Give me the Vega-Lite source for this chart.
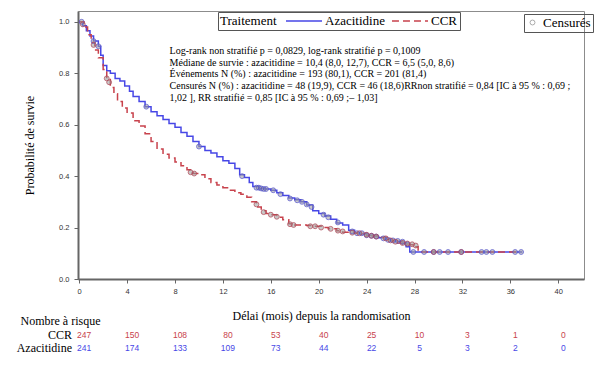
{
  "$schema": "https://vega.github.io/schema/vega-lite/v6.json",
  "width": 506,
  "height": 268,
  "autosize": "none",
  "padding": {"left": 78, "top": 11, "right": 20, "bottom": 94},
  "background": "white",
  "config": {
    "view": {"stroke": "#8c8c8c", "strokeWidth": 1},
    "axis": {
      "labelFont": "Liberation Sans", "labelFontSize": 7.5, "labelColor": "#333",
      "titleFont": "Liberation Serif", "titleFontSize": 12, "titleFontWeight": "normal", "titleColor": "#000",
      "domainColor": "#666", "domainWidth": 2, "tickColor": "#666", "tickSize": 4, "grid": false
    },
    "legend": {
      "titleFont": "Liberation Serif", "titleFontSize": 13, "titleFontWeight": "normal", "titleColor": "#000",
      "labelFont": "Liberation Serif", "labelFontSize": 13, "labelColor": "#000"
    }
  },
  "datasets": {
    "curves": [
      {"t": 0, "s": 1.0, "group": "Azacitidine"},
      {"t": 0.3, "s": 0.985, "group": "Azacitidine"},
      {"t": 0.6, "s": 0.965, "group": "Azacitidine"},
      {"t": 0.9, "s": 0.945, "group": "Azacitidine"},
      {"t": 1.2, "s": 0.925, "group": "Azacitidine"},
      {"t": 1.6, "s": 0.905, "group": "Azacitidine"},
      {"t": 1.8, "s": 0.87, "group": "Azacitidine"},
      {"t": 2.0, "s": 0.83, "group": "Azacitidine"},
      {"t": 2.3, "s": 0.81, "group": "Azacitidine"},
      {"t": 2.6, "s": 0.8, "group": "Azacitidine"},
      {"t": 3.0, "s": 0.78, "group": "Azacitidine"},
      {"t": 3.4, "s": 0.77, "group": "Azacitidine"},
      {"t": 3.8, "s": 0.75, "group": "Azacitidine"},
      {"t": 4.2, "s": 0.73, "group": "Azacitidine"},
      {"t": 4.5, "s": 0.71, "group": "Azacitidine"},
      {"t": 5.0, "s": 0.69, "group": "Azacitidine"},
      {"t": 5.5, "s": 0.67, "group": "Azacitidine"},
      {"t": 6.0, "s": 0.65, "group": "Azacitidine"},
      {"t": 6.5, "s": 0.635, "group": "Azacitidine"},
      {"t": 7.0, "s": 0.62, "group": "Azacitidine"},
      {"t": 7.5, "s": 0.605, "group": "Azacitidine"},
      {"t": 8.0, "s": 0.59, "group": "Azacitidine"},
      {"t": 8.5, "s": 0.57, "group": "Azacitidine"},
      {"t": 9.0, "s": 0.555, "group": "Azacitidine"},
      {"t": 9.5, "s": 0.535, "group": "Azacitidine"},
      {"t": 10.0, "s": 0.515, "group": "Azacitidine"},
      {"t": 10.5, "s": 0.5, "group": "Azacitidine"},
      {"t": 11.0, "s": 0.49, "group": "Azacitidine"},
      {"t": 11.5, "s": 0.475, "group": "Azacitidine"},
      {"t": 12.0, "s": 0.46, "group": "Azacitidine"},
      {"t": 12.5, "s": 0.45, "group": "Azacitidine"},
      {"t": 13.0, "s": 0.43, "group": "Azacitidine"},
      {"t": 13.4, "s": 0.405, "group": "Azacitidine"},
      {"t": 13.8, "s": 0.395, "group": "Azacitidine"},
      {"t": 14.2, "s": 0.375, "group": "Azacitidine"},
      {"t": 14.5, "s": 0.36, "group": "Azacitidine"},
      {"t": 15.0, "s": 0.352, "group": "Azacitidine"},
      {"t": 15.5, "s": 0.35, "group": "Azacitidine"},
      {"t": 16.0, "s": 0.345, "group": "Azacitidine"},
      {"t": 16.5, "s": 0.335, "group": "Azacitidine"},
      {"t": 17.0, "s": 0.325, "group": "Azacitidine"},
      {"t": 17.5, "s": 0.315, "group": "Azacitidine"},
      {"t": 18.0, "s": 0.308, "group": "Azacitidine"},
      {"t": 18.5, "s": 0.3, "group": "Azacitidine"},
      {"t": 19.0, "s": 0.288, "group": "Azacitidine"},
      {"t": 19.5, "s": 0.265, "group": "Azacitidine"},
      {"t": 20.0, "s": 0.255, "group": "Azacitidine"},
      {"t": 20.5, "s": 0.245, "group": "Azacitidine"},
      {"t": 21.0, "s": 0.232, "group": "Azacitidine"},
      {"t": 21.5, "s": 0.218, "group": "Azacitidine"},
      {"t": 22.0, "s": 0.21, "group": "Azacitidine"},
      {"t": 22.5, "s": 0.19, "group": "Azacitidine"},
      {"t": 23.0, "s": 0.18, "group": "Azacitidine"},
      {"t": 23.5, "s": 0.175, "group": "Azacitidine"},
      {"t": 24.0, "s": 0.17, "group": "Azacitidine"},
      {"t": 24.5, "s": 0.165, "group": "Azacitidine"},
      {"t": 25.0, "s": 0.16, "group": "Azacitidine"},
      {"t": 25.5, "s": 0.155, "group": "Azacitidine"},
      {"t": 26.0, "s": 0.15, "group": "Azacitidine"},
      {"t": 26.5, "s": 0.147, "group": "Azacitidine"},
      {"t": 27.0, "s": 0.14, "group": "Azacitidine"},
      {"t": 27.3, "s": 0.125, "group": "Azacitidine"},
      {"t": 27.6, "s": 0.105, "group": "Azacitidine"},
      {"t": 37.0, "s": 0.105, "group": "Azacitidine"},
      {"t": 0, "s": 1.0, "group": "CCR"},
      {"t": 0.4, "s": 0.98, "group": "CCR"},
      {"t": 0.7, "s": 0.95, "group": "CCR"},
      {"t": 1.0, "s": 0.92, "group": "CCR"},
      {"t": 1.3, "s": 0.89, "group": "CCR"},
      {"t": 1.6, "s": 0.86, "group": "CCR"},
      {"t": 2.0, "s": 0.815, "group": "CCR"},
      {"t": 2.3, "s": 0.78, "group": "CCR"},
      {"t": 2.6, "s": 0.745, "group": "CCR"},
      {"t": 2.9, "s": 0.72, "group": "CCR"},
      {"t": 3.2, "s": 0.69, "group": "CCR"},
      {"t": 3.6, "s": 0.665, "group": "CCR"},
      {"t": 4.0, "s": 0.645, "group": "CCR"},
      {"t": 4.5, "s": 0.615, "group": "CCR"},
      {"t": 5.0, "s": 0.595, "group": "CCR"},
      {"t": 5.5, "s": 0.565, "group": "CCR"},
      {"t": 6.0, "s": 0.535, "group": "CCR"},
      {"t": 6.5, "s": 0.505, "group": "CCR"},
      {"t": 7.0, "s": 0.485, "group": "CCR"},
      {"t": 7.5, "s": 0.47, "group": "CCR"},
      {"t": 8.0, "s": 0.455, "group": "CCR"},
      {"t": 8.5, "s": 0.44, "group": "CCR"},
      {"t": 9.0, "s": 0.425, "group": "CCR"},
      {"t": 9.5, "s": 0.41, "group": "CCR"},
      {"t": 10.0, "s": 0.405, "group": "CCR"},
      {"t": 10.5, "s": 0.39, "group": "CCR"},
      {"t": 11.0, "s": 0.375, "group": "CCR"},
      {"t": 11.5, "s": 0.365, "group": "CCR"},
      {"t": 12.0, "s": 0.355, "group": "CCR"},
      {"t": 12.5, "s": 0.345, "group": "CCR"},
      {"t": 13.0, "s": 0.335, "group": "CCR"},
      {"t": 13.5, "s": 0.33, "group": "CCR"},
      {"t": 14.0, "s": 0.318, "group": "CCR"},
      {"t": 14.4, "s": 0.3, "group": "CCR"},
      {"t": 14.8, "s": 0.28, "group": "CCR"},
      {"t": 15.2, "s": 0.265, "group": "CCR"},
      {"t": 15.6, "s": 0.255, "group": "CCR"},
      {"t": 16.0, "s": 0.25, "group": "CCR"},
      {"t": 16.5, "s": 0.24, "group": "CCR"},
      {"t": 17.0, "s": 0.23, "group": "CCR"},
      {"t": 17.5, "s": 0.215, "group": "CCR"},
      {"t": 18.0, "s": 0.21, "group": "CCR"},
      {"t": 19.0, "s": 0.208, "group": "CCR"},
      {"t": 19.6, "s": 0.205, "group": "CCR"},
      {"t": 20.2, "s": 0.2, "group": "CCR"},
      {"t": 20.8, "s": 0.195, "group": "CCR"},
      {"t": 21.5, "s": 0.188, "group": "CCR"},
      {"t": 22.0, "s": 0.182, "group": "CCR"},
      {"t": 23.0, "s": 0.178, "group": "CCR"},
      {"t": 24.0, "s": 0.168, "group": "CCR"},
      {"t": 25.0, "s": 0.162, "group": "CCR"},
      {"t": 26.0, "s": 0.148, "group": "CCR"},
      {"t": 26.5, "s": 0.14, "group": "CCR"},
      {"t": 27.0, "s": 0.136, "group": "CCR"},
      {"t": 27.6, "s": 0.133, "group": "CCR"},
      {"t": 28.1, "s": 0.125, "group": "CCR"},
      {"t": 28.3, "s": 0.105, "group": "CCR"},
      {"t": 36.5, "s": 0.105, "group": "CCR"}
    ],
    "censored": [
      {"t": 0.2, "s": 1.0, "group": "Azacitidine"},
      {"t": 1.2, "s": 0.925, "group": "Azacitidine"},
      {"t": 1.6, "s": 0.905, "group": "Azacitidine"},
      {"t": 5.6, "s": 0.67, "group": "Azacitidine"},
      {"t": 10.0, "s": 0.515, "group": "Azacitidine"},
      {"t": 13.6, "s": 0.4, "group": "Azacitidine"},
      {"t": 14.8, "s": 0.355, "group": "Azacitidine"},
      {"t": 15.0, "s": 0.355, "group": "Azacitidine"},
      {"t": 15.2, "s": 0.352, "group": "Azacitidine"},
      {"t": 15.4, "s": 0.35, "group": "Azacitidine"},
      {"t": 15.6, "s": 0.35, "group": "Azacitidine"},
      {"t": 16.2, "s": 0.345, "group": "Azacitidine"},
      {"t": 16.8, "s": 0.33, "group": "Azacitidine"},
      {"t": 17.6, "s": 0.313, "group": "Azacitidine"},
      {"t": 18.2, "s": 0.306, "group": "Azacitidine"},
      {"t": 18.6, "s": 0.3, "group": "Azacitidine"},
      {"t": 19.0, "s": 0.29, "group": "Azacitidine"},
      {"t": 19.4, "s": 0.28, "group": "Azacitidine"},
      {"t": 20.4, "s": 0.25, "group": "Azacitidine"},
      {"t": 20.8, "s": 0.24, "group": "Azacitidine"},
      {"t": 21.6, "s": 0.22, "group": "Azacitidine"},
      {"t": 22.8, "s": 0.185, "group": "Azacitidine"},
      {"t": 23.2, "s": 0.178, "group": "Azacitidine"},
      {"t": 23.6, "s": 0.178, "group": "Azacitidine"},
      {"t": 24.0, "s": 0.17, "group": "Azacitidine"},
      {"t": 24.4, "s": 0.168, "group": "Azacitidine"},
      {"t": 24.8, "s": 0.165, "group": "Azacitidine"},
      {"t": 25.4, "s": 0.158, "group": "Azacitidine"},
      {"t": 25.8, "s": 0.152, "group": "Azacitidine"},
      {"t": 26.2, "s": 0.15, "group": "Azacitidine"},
      {"t": 26.6, "s": 0.148, "group": "Azacitidine"},
      {"t": 27.0, "s": 0.145, "group": "Azacitidine"},
      {"t": 27.4, "s": 0.135, "group": "Azacitidine"},
      {"t": 27.9, "s": 0.105, "group": "Azacitidine"},
      {"t": 28.8, "s": 0.105, "group": "Azacitidine"},
      {"t": 29.6, "s": 0.105, "group": "Azacitidine"},
      {"t": 30.1, "s": 0.105, "group": "Azacitidine"},
      {"t": 30.8, "s": 0.105, "group": "Azacitidine"},
      {"t": 31.9, "s": 0.105, "group": "Azacitidine"},
      {"t": 33.6, "s": 0.105, "group": "Azacitidine"},
      {"t": 34.0, "s": 0.105, "group": "Azacitidine"},
      {"t": 34.5, "s": 0.105, "group": "Azacitidine"},
      {"t": 36.4, "s": 0.105, "group": "Azacitidine"},
      {"t": 36.9, "s": 0.105, "group": "Azacitidine"},
      {"t": 0.3, "s": 0.99, "group": "CCR"},
      {"t": 1.2, "s": 0.91, "group": "CCR"},
      {"t": 2.3, "s": 0.78, "group": "CCR"},
      {"t": 2.5, "s": 0.765, "group": "CCR"},
      {"t": 9.3, "s": 0.415, "group": "CCR"},
      {"t": 9.6, "s": 0.41, "group": "CCR"},
      {"t": 14.8, "s": 0.29, "group": "CCR"},
      {"t": 15.4, "s": 0.26, "group": "CCR"},
      {"t": 16.0, "s": 0.25, "group": "CCR"},
      {"t": 16.5, "s": 0.242, "group": "CCR"},
      {"t": 17.6, "s": 0.213, "group": "CCR"},
      {"t": 17.9, "s": 0.21, "group": "CCR"},
      {"t": 19.3, "s": 0.205, "group": "CCR"},
      {"t": 19.7, "s": 0.205, "group": "CCR"},
      {"t": 20.2, "s": 0.2, "group": "CCR"},
      {"t": 21.0, "s": 0.195, "group": "CCR"},
      {"t": 21.6, "s": 0.188, "group": "CCR"},
      {"t": 22.0, "s": 0.185, "group": "CCR"},
      {"t": 22.8, "s": 0.18, "group": "CCR"},
      {"t": 23.4, "s": 0.178, "group": "CCR"},
      {"t": 24.0, "s": 0.172, "group": "CCR"},
      {"t": 24.4, "s": 0.168, "group": "CCR"},
      {"t": 24.8, "s": 0.165, "group": "CCR"},
      {"t": 25.6, "s": 0.158, "group": "CCR"},
      {"t": 26.0, "s": 0.15, "group": "CCR"},
      {"t": 26.4, "s": 0.145, "group": "CCR"},
      {"t": 27.0, "s": 0.14, "group": "CCR"},
      {"t": 27.4, "s": 0.138, "group": "CCR"},
      {"t": 27.8, "s": 0.135, "group": "CCR"},
      {"t": 28.1, "s": 0.13, "group": "CCR"},
      {"t": 29.6, "s": 0.105, "group": "CCR"},
      {"t": 31.9, "s": 0.105, "group": "CCR"}
    ],
    "risk": [
      {"t": 0, "group": "CCR", "n": 247}, {"t": 4, "group": "CCR", "n": 150},
      {"t": 8, "group": "CCR", "n": 108}, {"t": 12, "group": "CCR", "n": 80},
      {"t": 16, "group": "CCR", "n": 53}, {"t": 20, "group": "CCR", "n": 40},
      {"t": 24, "group": "CCR", "n": 25}, {"t": 28, "group": "CCR", "n": 10},
      {"t": 32, "group": "CCR", "n": 3}, {"t": 36, "group": "CCR", "n": 1},
      {"t": 40, "group": "CCR", "n": 0},
      {"t": 0, "group": "Azacitidine", "n": 241}, {"t": 4, "group": "Azacitidine", "n": 174},
      {"t": 8, "group": "Azacitidine", "n": 133}, {"t": 12, "group": "Azacitidine", "n": 109},
      {"t": 16, "group": "Azacitidine", "n": 73}, {"t": 20, "group": "Azacitidine", "n": 44},
      {"t": 24, "group": "Azacitidine", "n": 22}, {"t": 28, "group": "Azacitidine", "n": 5},
      {"t": 32, "group": "Azacitidine", "n": 3}, {"t": 36, "group": "Azacitidine", "n": 2},
      {"t": 40, "group": "Azacitidine", "n": 0}
    ],
    "notes": [
      {"label": "Log-rank non stratifié p = 0,0829, log-rank stratifié p = 0,1009\nMédiane de survie : azacitidine = 10,4 (8,0, 12,7), CCR = 6,5 (5,0, 8,6)\nÉvénements N (%) : azacitidine = 193 (80,1), CCR = 201 (81,4)\nCensurés N (%) : azacitidine = 48 (19,9), CCR = 46 (18,6)RRnon stratifié = 0,84 [IC à 95 % : 0,69 ;\n1,02 ], RR stratifié = 0,85 [IC à 95 % : 0,69 ;– 1,03]"}
    ]
  },
  "layer": [
    {
      "data": {"name": "curves"},
      "mark": {"type": "line", "interpolate": "step-after", "strokeWidth": 1.5},
      "encoding": {
        "x": {
          "field": "t", "type": "quantitative",
          "scale": {"domain": [-0.1, 42.15], "nice": false, "zero": false},
          "axis": {"values": [0, 4, 8, 12, 16, 20, 24, 28, 32, 36, 40], "title": "Délai (mois) depuis la randomisation", "titlePadding": 16, "titleX": 243, "labelPadding": 4}
        },
        "y": {
          "field": "s", "type": "quantitative",
          "scale": {"domain": [0, 1.042], "nice": false},
          "axis": {"values": [0, 0.1, 0.2, 0.3, 0.4, 0.5, 0.6, 0.7, 0.8, 0.9, 1.0], "format": ".1f", "title": "Probabilité de survie", "titlePadding": 22, "labelPadding": 5}
        },
        "color": {
          "field": "group", "type": "nominal",
          "scale": {"domain": ["Azacitidine", "CCR"], "range": ["#4747e6", "#c8424c"]},
          "legend": {
            "title": "Traitement", "orient": "none", "direction": "horizontal", "titleOrient": "left",
            "legendX": 140, "legendY": 1, "strokeColor": "#555", "padding": 2, "clipHeight": 14,
            "symbolType": "stroke", "symbolSize": 1300, "symbolStrokeWidth": 1.5, "columnPadding": 6, "labelOffset": 2, "titlePadding": 8
          }
        },
        "strokeDash": {
          "field": "group", "type": "nominal",
          "scale": {"domain": ["Azacitidine", "CCR"], "range": [[1, 0], [7, 4]]},
          "legend": {
            "title": "Traitement", "orient": "none", "direction": "horizontal", "titleOrient": "left",
            "legendX": 140, "legendY": 1, "strokeColor": "#555", "padding": 2, "clipHeight": 14,
            "symbolType": "stroke", "symbolSize": 1300, "symbolStrokeWidth": 1.5, "columnPadding": 6, "labelOffset": 2, "titlePadding": 8
          }
        }
      }
    },
    {
      "data": {"name": "censored"},
      "mark": {"type": "point", "filled": true, "color": "#9a9a9a", "opacity": 0.55, "size": 24},
      "encoding": {
        "x": {"field": "t", "type": "quantitative"},
        "y": {"field": "s", "type": "quantitative"}
      }
    },
    {
      "data": {"name": "censored"},
      "transform": [{"calculate": "'Censurés'", "as": "cens"}],
      "mark": {"type": "point", "filled": false, "strokeWidth": 1, "size": 24},
      "encoding": {
        "x": {"field": "t", "type": "quantitative"},
        "y": {"field": "s", "type": "quantitative"},
        "stroke": {
          "field": "group", "type": "nominal",
          "scale": {"domain": ["Azacitidine", "CCR"], "range": ["#5050d0", "#b04050"]},
          "legend": null
        },
        "shape": {
          "field": "cens", "type": "nominal",
          "scale": {"range": ["circle"]},
          "legend": {
            "title": null, "orient": "none", "legendX": 446, "legendY": 3, "strokeColor": "#555", "padding": 2,
            "symbolSize": 24, "labelOffset": 4, "symbolStrokeColor": "#888888", "symbolFillColor": "#ffffff", "symbolStrokeWidth": 1
          }
        }
      }
    },
    {
      "data": {"name": "notes"},
      "mark": {"type": "text", "align": "left", "baseline": "top", "font": "Liberation Serif", "fontSize": 10, "lineHeight": 11.6, "lineBreak": "\n", "color": "#000"},
      "encoding": {
        "x": {"datum": 7.55, "type": "quantitative"},
        "y": {"datum": 0.905, "type": "quantitative"},
        "text": {"field": "label"}
      }
    },
    {
      "data": {"name": "risk"},
      "transform": [{"filter": "datum.group === 'CCR'"}],
      "mark": {"type": "text", "align": "center", "baseline": "middle", "font": "Liberation Sans", "fontSize": 8.5, "dx": 5, "color": "#c8424c"},
      "encoding": {
        "x": {"field": "t", "type": "quantitative"},
        "y": {"datum": -0.219, "type": "quantitative"},
        "text": {"field": "n"}
      }
    },
    {
      "data": {"name": "risk"},
      "transform": [{"filter": "datum.group === 'Azacitidine'"}],
      "mark": {"type": "text", "align": "center", "baseline": "middle", "font": "Liberation Sans", "fontSize": 8.5, "dx": 5, "color": "#4747e6"},
      "encoding": {
        "x": {"field": "t", "type": "quantitative"},
        "y": {"datum": -0.27, "type": "quantitative"},
        "text": {"field": "n"}
      }
    },
    {
      "data": {"values": [{"label": "Nombre à risque"}]},
      "mark": {"type": "text", "align": "left", "baseline": "middle", "font": "Liberation Serif", "fontSize": 12, "color": "#000"},
      "encoding": {
        "x": {"datum": -4.9, "type": "quantitative"},
        "y": {"datum": -0.165, "type": "quantitative"},
        "text": {"field": "label"}
      }
    },
    {
      "data": {"values": [{"label": "CCR"}]},
      "mark": {"type": "text", "align": "right", "baseline": "middle", "font": "Liberation Serif", "fontSize": 12, "color": "#000"},
      "encoding": {
        "x": {"datum": -0.6, "type": "quantitative"},
        "y": {"datum": -0.219, "type": "quantitative"},
        "text": {"field": "label"}
      }
    },
    {
      "data": {"values": [{"label": "Azacitidine"}]},
      "mark": {"type": "text", "align": "right", "baseline": "middle", "font": "Liberation Serif", "fontSize": 12, "color": "#000"},
      "encoding": {
        "x": {"datum": -0.6, "type": "quantitative"},
        "y": {"datum": -0.27, "type": "quantitative"},
        "text": {"field": "label"}
      }
    }
  ]
}
